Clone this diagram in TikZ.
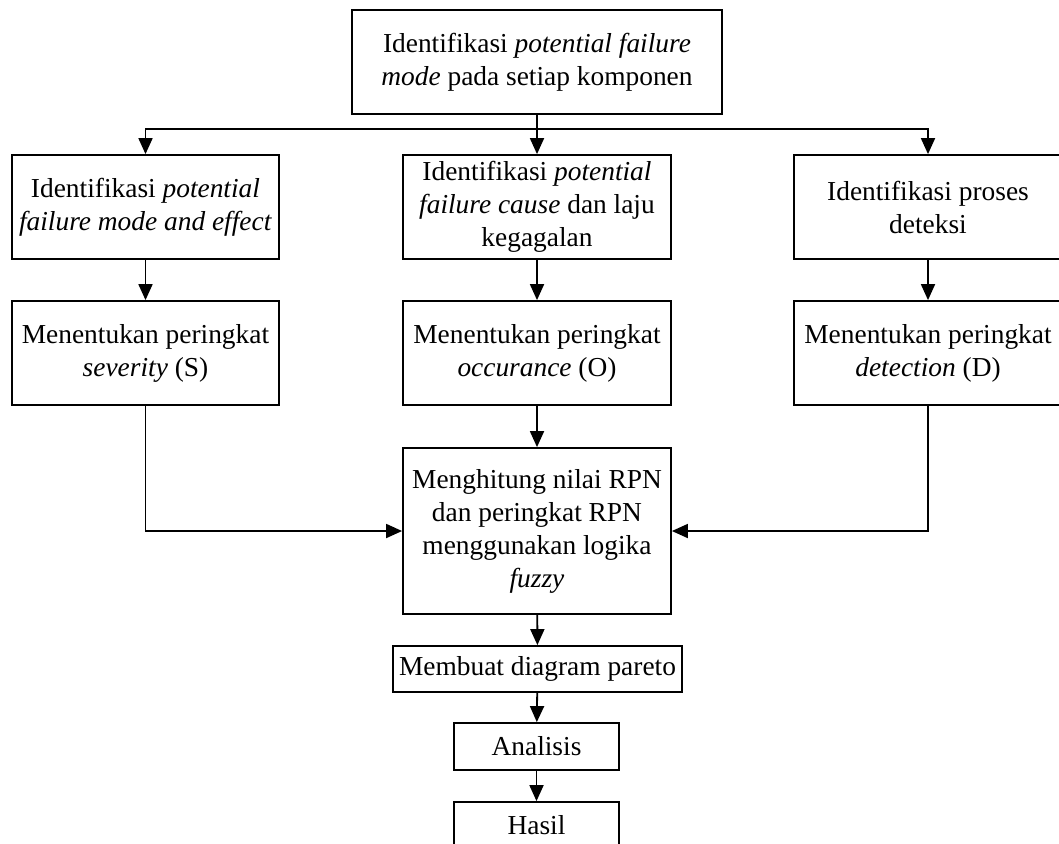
\documentclass[tikz,border=0pt]{standalone}
\usepackage{fontspec}
\setmainfont{Liberation Serif}
\usetikzlibrary{arrows.meta}
\begin{document}
\begin{tikzpicture}[x=0.5pt,y=-0.5pt,
  box/.style={draw, line width=0.9pt, inner sep=0pt, align=center,
    font=\fontsize{13.7}{16.5}\selectfont},
  arr/.style={line width=0.9pt, -{Triangle[length=8pt,width=7pt]}},
  ln/.style={line width=0.9pt}]
\useasboundingbox (0,0) rectangle (1059,843);
\clip (0,0) rectangle (1059,843);
\node[box, minimum width=185pt, minimum height=52pt] (top) at (537,62)
  {Identifikasi \textit{potential failure}\\\textit{mode} pada setiap komponen};
\node[box, minimum width=133.5pt, minimum height=52pt] (L1) at (145.5,207)
  {Identifikasi \textit{potential}\\\textit{failure mode and effect}};
\node[box, minimum width=134pt, minimum height=52pt] (M1) at (537,207)
  {Identifikasi \textit{potential}\\\textit{failure cause} dan laju\\kegagalan};
\node[box, minimum width=134pt, minimum height=52pt] (R1) at (928,207)
  {Identifikasi proses\\deteksi};
\node[box, minimum width=133.5pt, minimum height=52pt] (L2) at (145.5,353)
  {Menentukan peringkat\\\textit{severity} (S)};
\node[box, minimum width=134pt, minimum height=52pt] (M2) at (537,353)
  {Menentukan peringkat\\\textit{occurance} (O)};
\node[box, minimum width=134pt, minimum height=52pt] (R2) at (928,353)
  {Menentukan peringkat\\\textit{detection} (D)};
\node[box, minimum width=134pt, minimum height=83pt] (RPN) at (537,531)
  {Menghitung nilai RPN\\dan peringkat RPN\\menggunakan logika\\\textit{fuzzy}};
\node[box, minimum width=144.5pt, minimum height=23pt] (par) at (537.5,669)
  {Membuat diagram pareto};
\node[box, minimum width=82.5pt, minimum height=23.5pt] (ana) at (536.5,746.5)
  {Analisis};
\node[box, minimum width=82.5pt, minimum height=23.5pt] (has) at (536.5,825.5)
  {Hasil};
\coordinate (split) at (537,129);
\draw[arr] (top.south) -- (M1.north);
\draw[arr] (split) -| (L1.north);
\draw[arr] (split) -| (R1.north);
\draw[arr] (L1) -- (L2);
\draw[arr] (M1) -- (M2);
\draw[arr] (R1) -- (R2);
\draw[arr] (M2) -- (RPN);
\draw[arr] (L2.south) |- (RPN.west);
\draw[arr] (R2.south) |- (RPN.east);
\draw[arr] (RPN) -- (par);
\draw[arr] (par) -- (ana);
\draw[arr] (ana) -- (has);
\end{tikzpicture}
\end{document}
